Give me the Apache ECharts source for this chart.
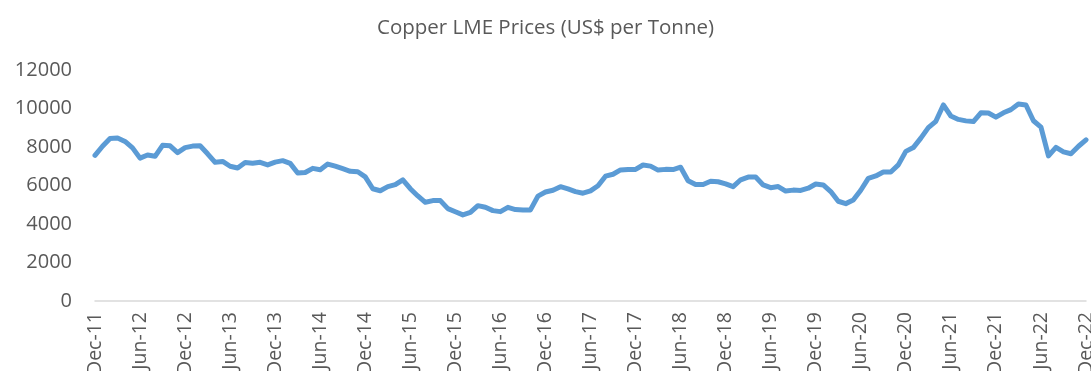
<!DOCTYPE html>
<html>
<head>
<meta charset="utf-8">
<title>Copper LME Prices</title>
<script src="https://cdn.jsdelivr.net/npm/echarts@6/dist/echarts.min.js"></script>
<style>
  html, body { margin: 0; padding: 0; background: #ffffff; }
  #chart { width: 1091px; height: 371px; }
</style>
</head>
<body>
<div id="chart"></div>
<script>
// Monthly LME copper price, US$ per tonne, Dec-2011 .. Dec-2022
const monthNames = ['Jan', 'Feb', 'Mar', 'Apr', 'May', 'Jun', 'Jul', 'Aug', 'Sep', 'Oct', 'Nov', 'Dec'];

const prices2011 = [7566];
const prices2012 = [8040, 8441, 8470, 8289, 7955, 7423, 7584, 7515, 8088, 8062, 7711, 7966];
const prices2013 = [8047, 8061, 7646, 7204, 7249, 7000, 6907, 7193, 7159, 7203, 7071, 7215];
const prices2014 = [7291, 7149, 6650, 6674, 6891, 6821, 7113, 7002, 6872, 6737, 6713, 6446];
const prices2015 = [5831, 5729, 5940, 6042, 6295, 5833, 5457, 5127, 5217, 5216, 4800, 4638];
const prices2016 = [4472, 4599, 4954, 4873, 4695, 4642, 4864, 4750, 4722, 4731, 5450, 5660];
const prices2017 = [5755, 5941, 5825, 5684, 5600, 5720, 5985, 6485, 6583, 6808, 6827, 6834];
const prices2018 = [7066, 7007, 6800, 6838, 6830, 6950, 6251, 6051, 6051, 6221, 6194, 6087];
const prices2019 = [5939, 6297, 6439, 6438, 6029, 5886, 5944, 5709, 5760, 5743, 5860, 6077];
const prices2020 = [6031, 5688, 5182, 5058, 5243, 5755, 6372, 6497, 6705, 6704, 7071, 7772];
const prices2021 = [7970, 8460, 9005, 9336, 10184, 9612, 9433, 9357, 9324, 9778, 9765, 9550];
const prices2022 = [9776, 9941, 10238, 10183, 9363, 9033, 7535, 7981, 7747, 7651, 8040, 8375];

const yearlyPrices = [
  { year: 2011, values: prices2011, firstMonth: 11 },
  { year: 2012, values: prices2012, firstMonth: 0 },
  { year: 2013, values: prices2013, firstMonth: 0 },
  { year: 2014, values: prices2014, firstMonth: 0 },
  { year: 2015, values: prices2015, firstMonth: 0 },
  { year: 2016, values: prices2016, firstMonth: 0 },
  { year: 2017, values: prices2017, firstMonth: 0 },
  { year: 2018, values: prices2018, firstMonth: 0 },
  { year: 2019, values: prices2019, firstMonth: 0 },
  { year: 2020, values: prices2020, firstMonth: 0 },
  { year: 2021, values: prices2021, firstMonth: 0 },
  { year: 2022, values: prices2022, firstMonth: 0 }
];

const yTicks = { min: 0, max: 12000, interval: 2000 };

// Flatten into "Mon-YY" categories and one value list
const categories = [];
const prices = [];
yearlyPrices.forEach(function (y) {
  y.values.forEach(function (v, i) {
    categories.push(monthNames[y.firstMonth + i] + '-' + String(y.year).slice(2));
    prices.push(v);
  });
});

const textColor = '#595959';
const fontFamily = '"Open Sans", "Noto Sans", sans-serif';

const chart = echarts.init(document.getElementById('chart'), null, { renderer: 'canvas' });
chart.setOption({
  backgroundColor: '#ffffff',
  animation: false,
  title: {
    text: 'Copper LME Prices (US$ per Tonne)',
    left: 'center',
    top: 13,
    textStyle: { color: textColor, fontSize: 20.5, fontWeight: 'normal', fontFamily: fontFamily }
  },
  // fixed plot box; the rotated month labels may run past the bottom edge
  grid: { left: 95, right: 5, top: 70, bottom: 70, containLabel: false, outerBoundsMode: 'none' },
  xAxis: {
    type: 'category',
    data: categories,
    boundaryGap: false,
    axisLine: { lineStyle: { color: '#D9D9D9', width: 1.5 } },
    axisTick: { show: false },
    axisLabel: {
      interval: 5,
      rotate: 90,
      margin: 11,
      color: textColor,
      fontSize: 19.5,
      fontFamily: fontFamily
    },
    splitLine: { show: false }
  },
  yAxis: {
    type: 'value',
    min: yTicks.min,
    max: yTicks.max,
    interval: yTicks.interval,
    axisLine: { show: false },
    axisTick: { show: false },
    splitLine: { show: false },
    axisLabel: {
      color: textColor,
      fontSize: 20,
      margin: 23,
      fontFamily: fontFamily,
      formatter: function (v) { return String(v); }
    }
  },
  series: [{
    type: 'line',
    data: prices,
    showSymbol: false,
    smooth: false,
    lineStyle: { color: '#5B9BD5', width: 5, join: 'round', cap: 'round' },
    itemStyle: { color: '#5B9BD5' }
  }]
});
</script>
</body>
</html>
